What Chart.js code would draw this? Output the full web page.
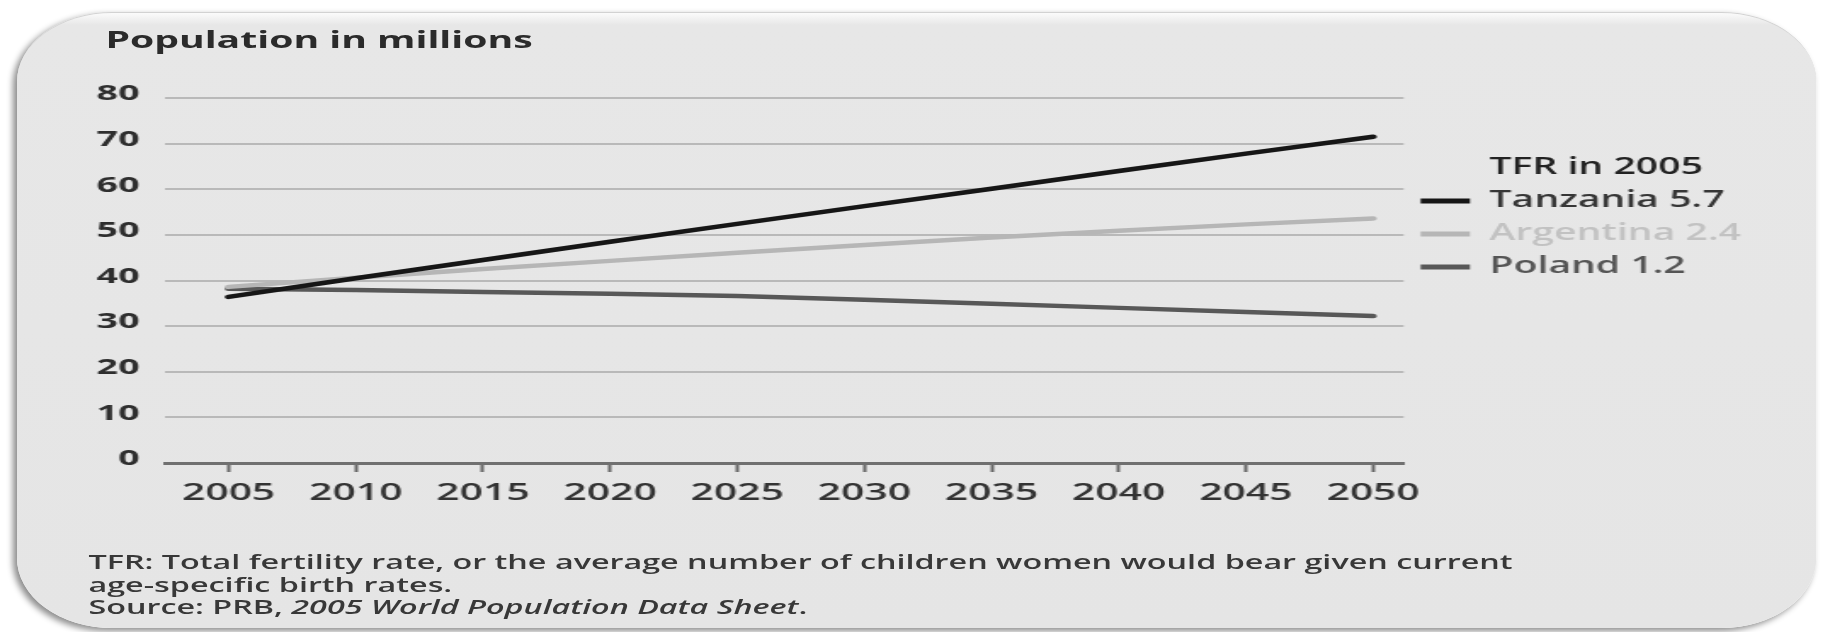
<!DOCTYPE html>
<html>
<head>
<meta charset="utf-8">
<script src="https://cdn.jsdelivr.net/npm/chart.js@4.4.0/dist/chart.umd.min.js"></script>
<style>
  html, body { margin: 0; padding: 0; background: #fff; overflow: hidden; }
  /* the source picture is stretched sideways, so the whole panel is drawn narrow and scaled */
  #stage {
    position: absolute; left: 0; top: 0; width: 1076px; height: 632px;
    transform: scaleX(1.7007); transform-origin: 0 0;
    font-family: 'Open Sans', sans-serif;
  }
  #panel {
    position: absolute; left: 10px; top: 12px; width: 1058px; height: 616px;
    box-sizing: border-box;
    background: linear-gradient(#fbfbfb 0px, #e7e7e7 12px, #e5e5e5 100%);
    border-top: 1px solid #d2d2d2;
    border-radius: 56px / 70px;
    box-shadow: -2px 3px 5px rgba(0, 0, 0, 0.45);
  }
  #chart { position: absolute; left: 0; top: 0; }
  #title {
    position: absolute; left: 62px; top: 28px;
    font-size: 23px; font-weight: 700; line-height: 1; color: #2b2b2b;
  }
  #note {
    position: absolute; left: 52px; top: 551px;
    font-size: 19px; font-weight: 600; line-height: 22.5px; color: #383838;
    white-space: nowrap;
  }
</style>
</head>
<body>
<div id="stage">
  <div id="panel"></div>
  <div id="title">Population in millions</div>
  <canvas id="chart" width="1076" height="632"></canvas>
  <div id="note">TFR: Total fertility rate, or the average number of children women would bear given current<br>age-specific birth rates.<br>Source: PRB, <i>2005 World Population Data Sheet</i>.</div>
</div>
<script>
const years = [2005, 2010, 2015, 2020, 2025, 2030, 2035, 2040, 2045, 2050];
const yTicks = [0, 10, 20, 30, 40, 50, 60, 70, 80];
const seriesNames = ['Tanzania 5.7', 'Argentina 2.4', 'Poland 1.2'];
const legendTitle = 'TFR in 2005';

// population in millions
const tanzania = [36.4, 40.5, 44.5, 48.5, 52.4, 56.3, 60.1, 64.0, 67.8, 71.5];
const argentina = [38.6, 40.6, 42.5, 44.3, 46.1, 47.8, 49.4, 50.9, 52.3, 53.6];
const poland = [38.2, 37.9, 37.5, 37.1, 36.6, 35.8, 34.9, 34.0, 33.1, 32.2];

const stageWidth = 1076;
const plotRight = 825.3;
const legendFont = { family: 'Open Sans', size: 23, weight: '600' };
const legendBox = 29;
const legendPad = 10;

function points(values) {
    return years.map((yr, i) => ({ x: yr, y: values[i] }));
}

function makeDataset(label, values, color, textColor) {
    return {
        label: label,
        data: points(values),
        borderColor: color,
        backgroundColor: color,
        legendText: textColor,
        borderWidth: 4.5,
        borderCapStyle: 'round',
        borderJoinStyle: 'round',
        pointRadius: 0,
        tension: 0,
        fill: false
    };
}

function legendItems(chart) {
    var items = [{
        text: legendTitle,
        fillStyle: 'rgba(0,0,0,0)',
        strokeStyle: 'rgba(0,0,0,0)',
        lineWidth: 0,
        fontColor: '#222222',
        hidden: false
    }];
    chart.data.datasets.forEach(function (ds, i) {
        items.push({
            text: ds.label,
            fillStyle: ds.borderColor,
            strokeStyle: ds.borderColor,
            lineWidth: 0,
            fontColor: ds.legendText,
            hidden: false,
            datasetIndex: i
        });
    });
    return items;
}

// width the legend will ask for, so the plot can end where it does in the picture
function legendWidth() {
    var c = document.createElement('canvas').getContext('2d');
    c.font = legendFont.weight + ' ' + legendFont.size + 'px "' + legendFont.family + '"';
    var widest = 0;
    [legendTitle].concat(seriesNames).forEach(function (t) {
        widest = Math.max(widest, c.measureText(t).width);
    });
    return legendPad + legendBox + legendFont.size / 2 + widest + 10;
}

var ctx = document.getElementById('chart');
var chart = new Chart(ctx, {
    type: 'line',
    data: {
        datasets: [
            makeDataset(seriesNames[0], tanzania, '#161616', '#363636'),
            makeDataset(seriesNames[1], argentina, '#b6b6b6', '#c2c2c2'),
            makeDataset(seriesNames[2], poland, '#585858', '#555555')
        ]
    },
    options: {
        responsive: false,
        animation: false,
        layout: {
            padding: {
                left: 0,
                top: 98,
                right: stageWidth - plotRight - legendWidth(),
                bottom: 109
            }
        },
        scales: {
            x: {
                type: 'linear',
                min: 2002.5,
                max: 2051.2,
                afterBuildTicks: function (axis) {
                    axis.ticks = years.map(v => ({ value: v }));
                },
                afterFit: function (axis) {
                    axis.height = 60;
                },
                grid: {
                    drawOnChartArea: false,
                    drawTicks: true,
                    tickLength: 9,
                    tickWidth: 2,
                    tickColor: '#666666'
                },
                border: {
                    display: true,
                    color: '#707070',
                    width: 3
                },
                ticks: {
                    padding: 7,
                    autoSkip: false,
                    maxRotation: 0,
                    color: '#333333',
                    font: { family: 'Open Sans', size: 24, weight: '600' },
                    callback: v => String(v)
                }
            },
            y: {
                min: 0,
                max: 80,
                afterBuildTicks: function (axis) {
                    axis.ticks = yTicks.map(v => ({ value: v }));
                },
                afterFit: function (axis) {
                    axis.width = 97;
                },
                grid: {
                    drawTicks: false,
                    lineWidth: 2,
                    color: c => c.tick && c.tick.value === 0 ? 'rgba(0,0,0,0)' : '#b9b9b9'
                },
                border: { display: false },
                ticks: {
                    padding: 15,
                    labelOffset: -4,
                    color: '#2e2e2e',
                    font: { family: 'Open Sans', size: 22, weight: 'bold' }
                }
            }
        },
        plugins: {
            tooltip: { enabled: false },
            legend: {
                position: 'right',
                align: 'start',
                fullSize: false,
                // empty title only keeps the rows below the top of the plot
                title: {
                    display: true,
                    text: '',
                    padding: { top: 34, bottom: 0 },
                    font: { size: 12 }
                },
                labels: {
                    boxWidth: legendBox,
                    boxHeight: 5,
                    padding: legendPad,
                    font: legendFont,
                    generateLabels: legendItems
                }
            }
        }
    }
});
</script>
</body>
</html>
